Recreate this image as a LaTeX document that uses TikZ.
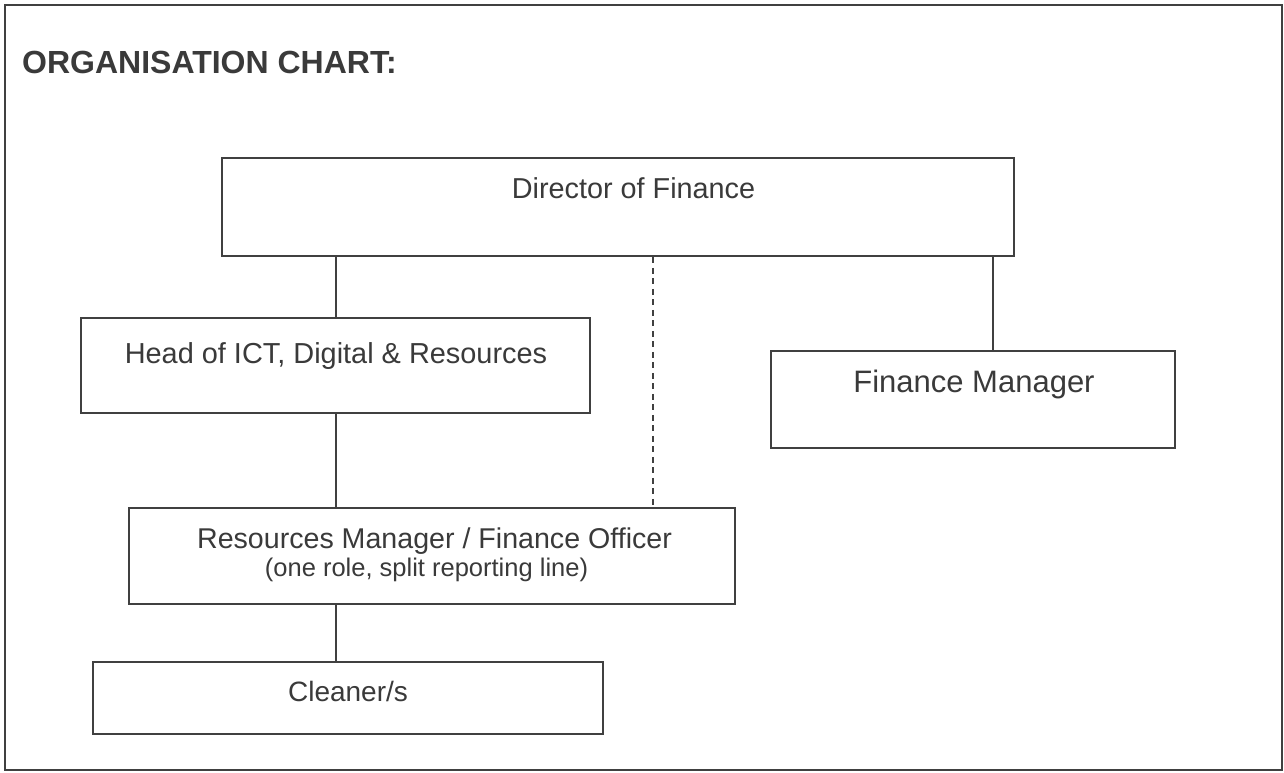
\documentclass[tikz,border=0pt]{standalone}
\usepackage{fontspec}
\setmainfont{Liberation Sans}
\definecolor{ink}{HTML}{3A3A3A}
\definecolor{linec}{HTML}{404040}
\begin{document}
\begin{tikzpicture}[x=1pt,y=-1pt,
  box/.style={draw=linec,line width=2.6pt,inner sep=0pt,fill=white},
  lbl/.style={text=ink,inner sep=0pt,anchor=base},
  link/.style={draw=linec,line width=1.8pt},
  dlink/.style={draw=linec,line width=1.8pt,dash pattern=on 6pt off 4.5pt}]
\useasboundingbox (0,0) rectangle (1284,772);
\draw[linec,line width=2pt] (5,5) rectangle (1282,770);
\node[lbl,anchor=base west,font=\fontsize{32}{36}\selectfont\bfseries] (title) at (22,73) {ORGANISATION CHART:};
% boxes
\node[box,minimum width=792pt,minimum height=98pt] (dir) at (618,207) {};
\node[box,minimum width=509pt,minimum height=95pt] (head) at (335.5,365.5) {};
\node[box,minimum width=404pt,minimum height=97pt] (fm) at (973,399.5) {};
\node[box,minimum width=606pt,minimum height=96pt] (res) at (432,556) {};
\node[box,minimum width=510pt,minimum height=72pt] (cl) at (348,698) {};
% texts
\node[lbl,font=\fontsize{28.8}{32}\selectfont] (tdir) at (633.5,198) {Director of Finance};
\node[lbl,font=\fontsize{28.9}{32}\selectfont] (thead) at (336,363) {Head of ICT, Digital \& Resources};
\node[lbl,font=\fontsize{31}{34}\selectfont] (tfm) at (974,392) {Finance Manager};
\node[lbl,font=\fontsize{28.6}{32}\selectfont] (tres) at (434.5,548) {Resources Manager / Finance Officer};
\node[lbl,font=\fontsize{25.5}{28}\selectfont] (tres2) at (426.5,576) {(one role, split reporting line)};
\node[lbl,font=\fontsize{28}{32}\selectfont] (tcl) at (348,701) {Cleaner/s};
% connectors
\coordinate (lx) at (336,0);
\coordinate (dx) at (653,0);
\coordinate (fx) at (993,0);
\draw[link] (lx |- dir.south) -- (lx |- head.north);
\draw[link] (lx |- head.south) -- (lx |- res.north);
\draw[link] (lx |- res.south) -- (lx |- cl.north);
\draw[dlink] (dx |- dir.south) -- (dx |- res.north);
\draw[link] (fx |- dir.south) -- (fx |- fm.north);
\end{tikzpicture}
\end{document}
